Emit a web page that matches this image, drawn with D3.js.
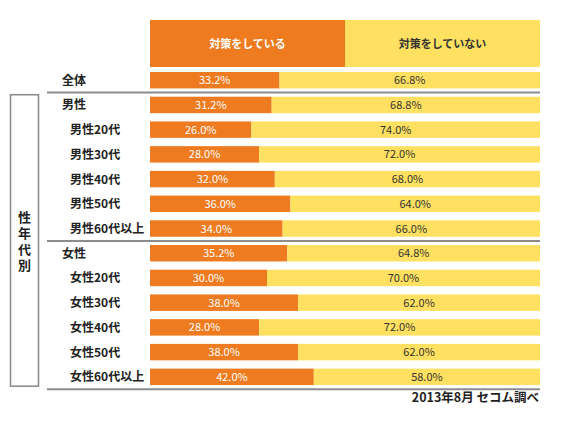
<!DOCTYPE html>
<html><head><meta charset="utf-8">
<script src="https://cdn.jsdelivr.net/npm/d3@7"></script>
<style>body{margin:0;background:#fff;} svg{display:block;font-family:"Noto Sans CJK JP","Noto Sans",sans-serif;}</style>
</head><body><svg id="c" width="561" height="424"></svg>
<script>
const categories = ["全体","男性","男性20代","男性30代","男性40代","男性50代","男性60代以上","女性","女性20代","女性30代","女性40代","女性50代","女性60代以上"];
const doing = [33.2,31.2,26.0,28.0,32.0,36.0,34.0,35.2,30.0,38.0,28.0,38.0,42.0];
const notDoing = [66.8,68.8,74.0,72.0,68.0,64.0,66.0,64.8,70.0,62.0,72.0,62.0,58.0];
const seriesNames = ["対策をしている","対策をしていない"];
const isSub = [false,false,true,true,true,true,true,false,true,true,true,true,true];
const groupLabel = "性年代別";
const source = "2013年8月 セコム調べ";

const ORANGE = "#EE7B1F", YELLOW = "#FFE060";
const svg = d3.select("#c");
const x = d3.scaleLinear().domain([0,100]).range([150,540]);
const y = d3.scaleBand().domain(categories).range([72, 72 + 13*24.08]).paddingInner(0.335).paddingOuter(0);
const bh = y.bandwidth();

// header
const hdr = svg.append("g");
hdr.append("rect").attr("x",x(0)).attr("y",20).attr("width",x(50)-x(0)).attr("height",47).attr("fill",ORANGE);
hdr.append("rect").attr("x",x(50)).attr("y",20).attr("width",x(100)-x(50)).attr("height",47).attr("fill",YELLOW);
hdr.append("text").attr("x",(x(0)+x(50))/2).attr("y",48).attr("text-anchor","middle").attr("fill","#fff").attr("font-size",11).attr("font-weight","bold").text(seriesNames[0]);
hdr.append("text").attr("x",(x(50)+x(100))/2).attr("y",48).attr("text-anchor","middle").attr("fill","#333").attr("font-size",11).attr("font-weight","bold").text(seriesNames[1]);

// bars
const rows = svg.append("g").selectAll("g").data(categories).join("g");
rows.append("rect").attr("x",x(0)).attr("y",d=>y(d)).attr("height",bh)
  .attr("width",(d,i)=>x(doing[i])-x(0)).attr("fill",ORANGE);
rows.append("rect").attr("x",(d,i)=>x(doing[i])).attr("y",d=>y(d)).attr("height",bh)
  .attr("width",(d,i)=>x(doing[i]+notDoing[i])-x(doing[i])).attr("fill",YELLOW);
rows.append("text").attr("x",(d,i)=>(x(0)+x(doing[i]))/2).attr("y",d=>y(d)+bh/2+4)
  .attr("text-anchor","middle").attr("fill","#fff").attr("font-size",11).text((d,i)=>doing[i].toFixed(1)+"%");
rows.append("text").attr("x",(d,i)=>(x(doing[i])+x(100))/2).attr("y",d=>y(d)+bh/2+4)
  .attr("text-anchor","middle").attr("fill","#333").attr("font-size",11).text((d,i)=>notDoing[i].toFixed(1)+"%");
rows.append("text").attr("x",(d,i)=>isSub[i]?70:62).attr("y",d=>y(d)+bh/2+4.5)
  .attr("fill","#222").attr("font-size",12).attr("font-weight","bold").text(d=>d);

// separators
const step = y.step();
const sepY = [ (y(categories[0])+bh + y(categories[1]))/2,
               (y(categories[6])+bh + y(categories[7]))/2,
               y(categories[12])+bh+(step-bh)/2 ];
svg.append("g").selectAll("line").data(sepY).join("line")
  .attr("x1",47).attr("x2",x(100)).attr("y1",d=>d).attr("y2",d=>d)
  .attr("stroke","#8c8c8c").attr("stroke-width",2);

// left group box
svg.append("rect").attr("x",10.5).attr("y",y(categories[1])-2).attr("width",28).attr("height",sepY[2]-3-(y(categories[1])-2))
  .attr("fill","none").attr("stroke","#888").attr("stroke-width",1.5);
const midY = (y(categories[1]) + sepY[2]) / 2;
svg.append("text").attr("x",24.5).attr("y",midY).attr("text-anchor","middle")
  .style("writing-mode","vertical-rl").attr("letter-spacing",3)
  .attr("fill","#222").attr("font-size",13).attr("font-weight","bold").text(groupLabel);

// source
svg.append("text").attr("x",539).attr("y",402).attr("text-anchor","end").attr("fill","#222")
  .attr("font-size",12.5).attr("font-weight","bold").text(source);
</script></body></html>
